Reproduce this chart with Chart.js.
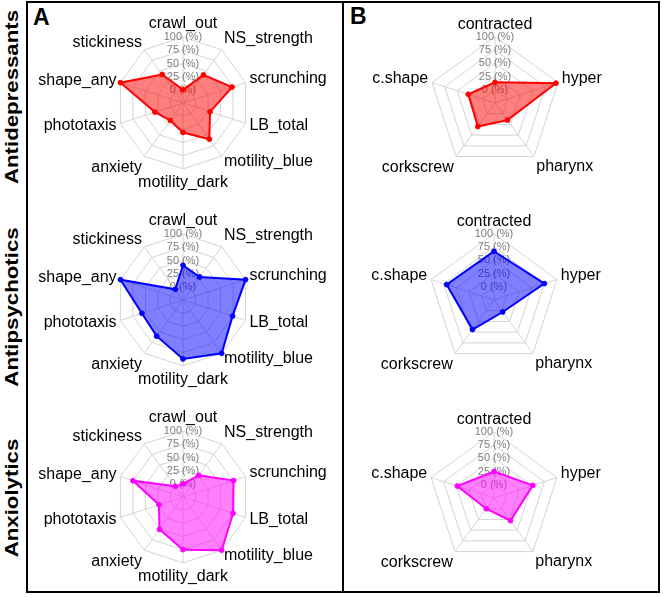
<!DOCTYPE html>
<html><head><meta charset="utf-8">
<script src="https://cdn.jsdelivr.net/npm/chart.js@4.4.1/dist/chart.umd.min.js"></script>
<style>
html,body{margin:0;padding:0;background:#fff;}
body{width:663px;height:597px;position:relative;overflow:hidden;font-family:"Liberation Sans",Arial,sans-serif;}
.frame{position:absolute;left:26px;top:1px;width:634px;height:592px;border:2px solid #000;box-sizing:border-box;}
.divider{position:absolute;left:342px;top:1px;width:2px;height:592px;background:#000;}
.letter{position:absolute;font-weight:bold;font-size:23px;line-height:23px;color:#000;}
.row{position:absolute;width:0;height:0;}
.row span{position:absolute;left:0;top:0;white-space:nowrap;font-weight:bold;font-size:17.5px;line-height:1;color:#000;transform:translate(-50%,-50%) rotate(-90deg) scaleX(1.27);}
.cv{position:absolute;}
</style></head>
<body>
<div class="frame"></div>
<div class="divider"></div>
<div class="letter" style="left:33px;top:6px">A</div>
<div class="letter" style="left:350px;top:5px">B</div>
<div class="row" style="left:13.3px;top:96.7px"><span>Antidepressants</span></div>
<div class="row" style="left:13.3px;top:306.5px"><span>Antipsychotics</span></div>
<div class="row" style="left:13.3px;top:498.3px"><span>Anxiolytics</span></div>

<canvas id="a1" class="cv" width="344" height="178" style="left:11px;top:14px"></canvas>
<canvas id="a2" class="cv" width="344" height="178" style="left:11px;top:211px"></canvas>
<canvas id="a3" class="cv" width="344" height="178" style="left:11px;top:408px"></canvas>
<canvas id="b1" class="cv" width="300" height="174" style="left:345px;top:9px"></canvas>
<canvas id="b2" class="cv" width="300" height="174" style="left:344px;top:206px"></canvas>
<canvas id="b3" class="cv" width="300" height="174" style="left:344px;top:404px"></canvas>

<script>
// ---- data ----
const labelsA = ['crawl_out','NS_strength','scrunching','LB_total','motility_blue','motility_dark','anxiety','phototaxis','shape_any','stickiness'];
const labelsB = ['contracted','hyper','pharynx','corkscrew','c.shape'];

const antidepressantsA = [0, 41, 73, 29, 60, 31, 16, 31, 100, 42];
const antipsychoticsA  = [41, 29, 100, 74, 100, 87, 60, 57, 100, 0];
const anxiolyticsA     = [0, 26, 76, 75, 100, 75, 51, 23, 75, 0];

const antidepressantsB = [14, 96, 15, 30, 28];
const antipsychoticsB  = [67, 75, 3, 44, 69];
const anxiolyticsB     = [25, 52, 28, 0, 48];

const tickMin = -25, tickMax = 100, tickStep = 25;

// ---- styling ----
const FONT = '"Liberation Sans", Arial, sans-serif';
const lineHeightsA = [1.2, 1.05, 0.375, 0.1, 0.3, 1.2, 1.0, 0.1, 0.1, 0.43];
const lineHeightsB = [1.05, 0.4, 0.9, 1.0, 0.4];

function makeRadar(id, labels, values, color, fill, lineHeights) {
  new Chart(document.getElementById(id), {
    type: 'radar',
    data: {
      labels: labels,
      datasets: [{
        data: values,
        borderColor: color,
        backgroundColor: fill,
        borderWidth: 2,
        fill: 'start',
        pointRadius: 2.4,
        pointBackgroundColor: color,
        pointBorderColor: color,
        pointBorderWidth: 1
      }]
    },
    options: {
      responsive: false,
      animation: false,
      plugins: { legend: { display: false }, tooltip: { enabled: false } },
      layout: { padding: 0 },
      elements: { line: { borderJoinStyle: 'miter', tension: 0 } },
      scales: {
        r: {
          min: tickMin, max: tickMax,
          ticks: {
            stepSize: tickStep,
            callback: v => v < 0 ? '' : v + ' (%)',
            color: '#7c7c7c',
            font: { family: FONT, size: 11 },
            showLabelBackdrop: false,
            backdropPadding: 0
          },
          grid: { color: '#d4d4d4', lineWidth: 1 },
          angleLines: { color: '#d4d4d4', lineWidth: 1 },
          pointLabels: {
            color: '#000',
            padding: -1.5,
            font: ctx => ({ family: FONT, size: 16, lineHeight: lineHeights[ctx.index] })
          }
        }
      }
    }
  });
}

const RED = '#ff0000', RED_F = 'rgba(255,0,0,0.5)';
const BLUE = '#0000ff', BLUE_F = 'rgba(0,0,255,0.5)';
const MAG = '#ff00ff', MAG_F = 'rgba(255,0,255,0.5)';

makeRadar('a1', labelsA, antidepressantsA, RED, RED_F, lineHeightsA);
makeRadar('a2', labelsA, antipsychoticsA, BLUE, BLUE_F, lineHeightsA);
makeRadar('a3', labelsA, anxiolyticsA, MAG, MAG_F, lineHeightsA);
makeRadar('b1', labelsB, antidepressantsB, RED, RED_F, lineHeightsB);
makeRadar('b2', labelsB, antipsychoticsB, BLUE, BLUE_F, lineHeightsB);
makeRadar('b3', labelsB, anxiolyticsB, MAG, MAG_F, lineHeightsB);
</script>
</body></html>
